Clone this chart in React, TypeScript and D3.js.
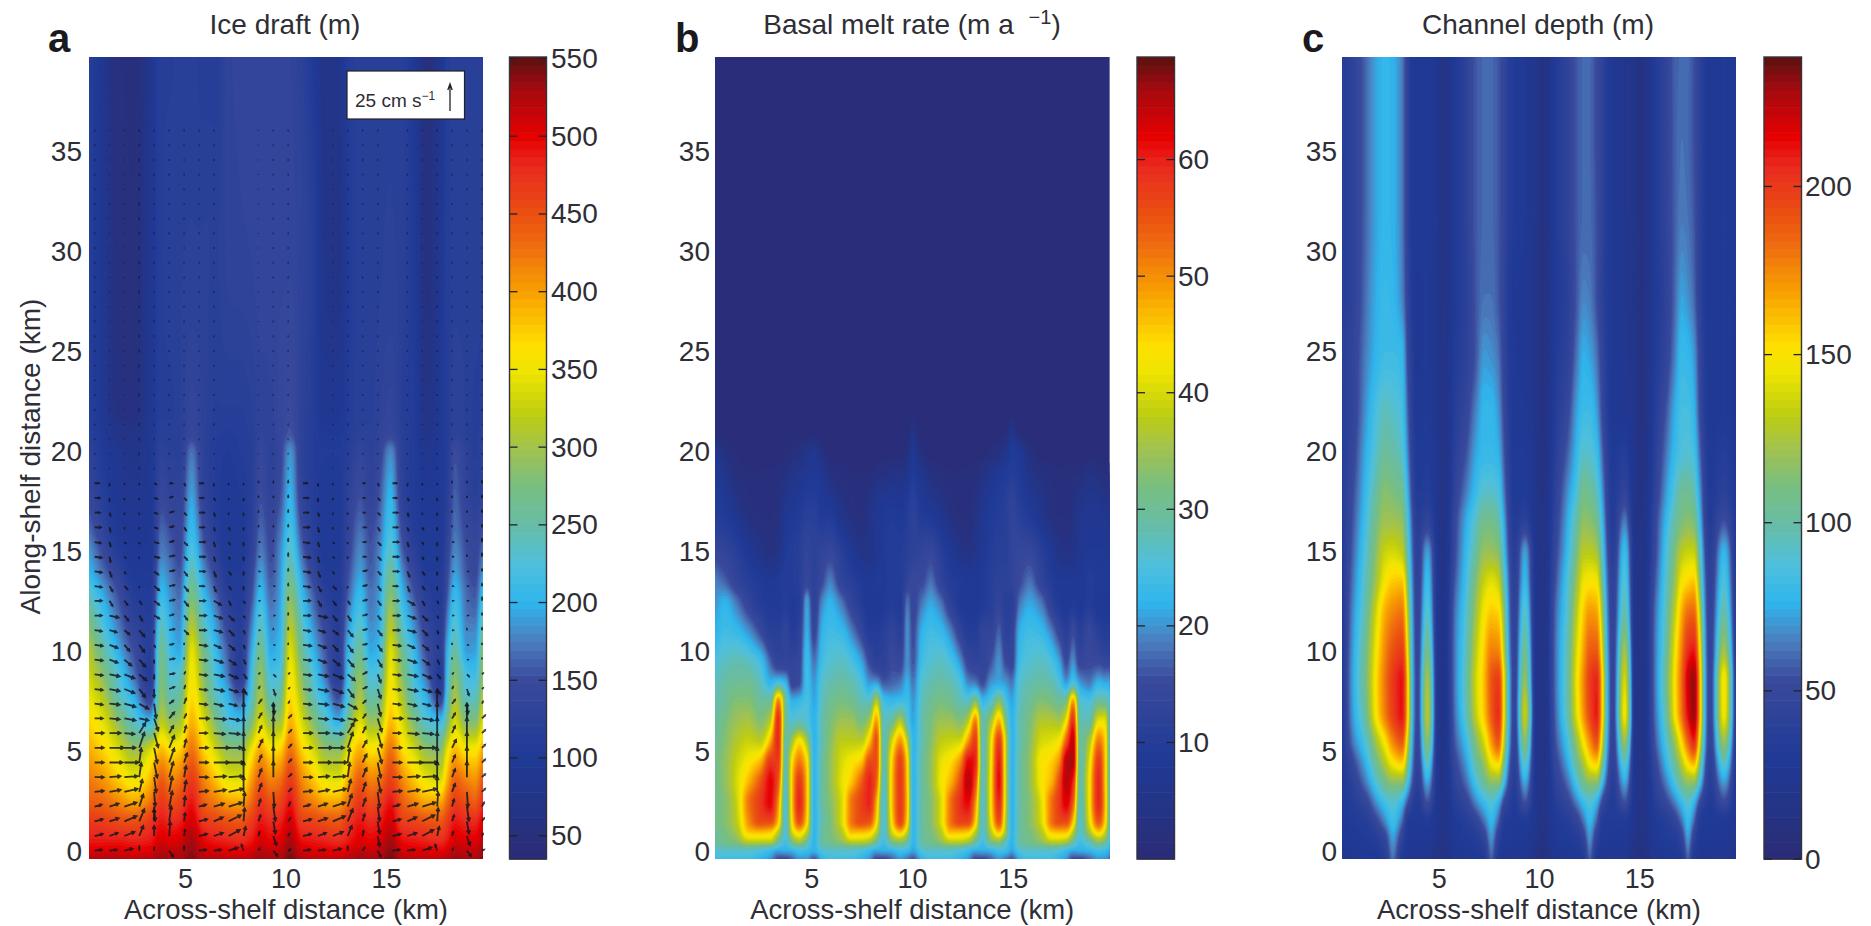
import React, { useMemo } from "react";
import * as d3 from "d3";

// ---------- shared ticks and labels ----------
const alongTicks = [0, 5, 10, 15, 20, 25, 30, 35];
const acrossTicks = [5, 10, 15];
const draftTicks = [50, 100, 150, 200, 250, 300, 350, 400, 450, 500, 550];
const meltTicks = [10, 20, 30, 40, 50, 60];
const depthTicks = [0, 50, 100, 150, 200];

const stopValues = [35, 50, 100, 150, 175, 200, 225, 250, 275, 300, 320, 350, 365, 400, 430, 450, 480, 500, 530, 551];
const stopColours = ["#2a2a78", "#28307c", "#1f3a96", "#3a4a9c", "#4b7dbd", "#2fb5ec", "#4fc0dc", "#67bda6", "#77be80", "#a3c24e", "#bccd12", "#f0e500", "#fee000", "#f8a000", "#ef6c10", "#ea5010", "#ea2a20", "#e60000", "#a50a10", "#5a1010"];

// ---------- panel a: ice draft (m) ----------
const draftX = [0.2, 0.85, 1.65, 2.45, 3.25, 3.8, 4.3, 4.7, 5.3, 5.9, 6.5, 7.1, 7.7, 8.25, 8.75, 9.25, 9.7, 10.2, 10.8, 11.4, 12, 12.6, 13.1, 13.7, 14.2, 14.6, 15.2, 15.8, 16.4, 17, 17.7, 18, 18.4, 19, 19.4, 19.8];
const draftY = [-0.4, 0.5, 1.5, 2.5, 3.5, 5, 6.5, 8, 9, 10, 11, 12, 13, 14, 15, 16, 18, 20, 21, 22, 30, 39.75];
const draftGrid = [
  [525,525,525,520,525,535,530,530,540, 525,525,520,520,525,535,530,530,545, 525,520,520,520,525,535,530,530,545, 525,520,520,520,525,535,530,530,540],
  [490,490,490,485,490,510,505,510,530, 500,490,485,480,490,510,500,505,530, 495,490,485,480,490,505,500,505,530, 495,490,485,480,490,510,505,505,525],
  [470,465,455,450,470,490,480,485,510, 470,460,450,445,465,490,480,485,510, 465,460,450,445,470,490,480,485,510, 465,460,450,445,465,490,480,480,505],
  [440,435,415,395,425,470,450,460,490, 440,420,400,395,430,470,450,460,490, 435,415,395,395,430,470,450,460,490, 440,415,395,395,430,465,450,440,480],
  [425,410,380,355,390,445,420,430,470, 420,385,350,345,400,445,420,430,470, 415,380,350,345,395,445,420,425,465, 415,380,350,340,390,440,420,410,450],
  [395,375,340,300,340,390,365,375,430, 375,335,295,290,350,400,365,375,430, 375,335,295,290,345,395,365,370,430, 370,335,295,285,345,390,360,360,400],
  [370,345,290,235,205,320,290,300,390, 340,280,230,215,270,340,295,300,390, 335,280,235,200,270,340,295,300,385, 335,275,230,210,265,335,280,280,345],
  [345,310,240,190,125,285,240,250,365, 300,235,195,150,220,305,235,250,365, 300,235,190,140,225,300,240,250,360, 300,230,190,120,215,300,230,230,310],
  [330,285,225,165,110,275,225,230,355, 285,220,170,110,205,290,215,225,355, 280,220,165,110,215,285,220,225,350, 280,215,165,105,205,280,215,210,295],
  [315,260,200,150,115,265,210,195,345, 270,210,160,115,190,270,195,210,340, 260,200,155,120,205,260,195,205,340, 265,205,150,120,195,255,190,190,290],
  [290,235,180,135,115,245,200,185,320, 245,195,145,115,175,245,185,200,320, 245,185,145,115,190,240,185,195,320, 240,185,140,115,180,235,180,180,265],
  [265,215,165,120,110,225,190,175,295, 225,180,130,110,160,225,175,195,300, 225,170,130,110,175,220,175,190,300, 220,170,125,110,165,220,170,165,240],
  [235,195,150,110,105,205,180,165,270, 205,160,115,105,145,205,165,190,280, 205,155,115,105,160,205,170,185,280, 200,150,115,105,150,205,165,155,215],
  [205,170,130,100,100,190,170,155,245, 185,140,105,105,135,190,155,185,255, 185,135,105,105,150,190,160,180,260, 180,135,105,105,140,190,155,145,190],
  [190,150,110,95,95,175,160,145,225, 165,125,100,100,125,175,150,180,235, 165,120,100,100,140,180,155,175,235, 160,120,100,100,130,180,150,140,170],
  [170,135,100,90,95,165,150,140,210, 150,115,100,100,120,165,145,170,220, 150,115,100,100,135,170,150,165,220, 145,110,100,100,125,170,145,135,155],
  [140,115,90,85,95,140,130,130,190, 130,110,100,105,115,150,130,150,200, 130,110,100,100,125,150,130,150,200, 125,105,95,100,115,160,130,120,130],
  [125,105,85,75,95,125,120,120,170, 125,110,105,110,115,140,125,140,185, 125,110,105,105,115,135,125,135,180, 120,105,85,100,110,150,125,115,125],
  [118,100,72,68,95,118,118,120,140, 125,112,110,112,118,132,128,140,155, 125,110,98,98,112,122,122,128,140, 118,105,75,100,110,125,120,115,118],
  [115,95,60,58,92,115,115,120,135, 125,115,115,115,120,130,130,140,150, 125,110,90,92,110,120,120,125,135, 115,105,70,100,110,125,120,115,115],
  [115,90,55,52,88,115,118,120,122, 122,120,128,130,132,136,136,136,136, 128,112,75,72,105,118,118,120,122, 118,100,58,92,112,118,118,118,115],
  [115,88,52,50,85,115,115,118,118, 112,112,130,134,136,136,136,136,132, 122,100,70,78,110,118,118,120,120, 115,95,55,88,112,118,118,118,115],
];

// ---------- panel a: velocity arrows (cm/s, rows from the grounding line upward) ----------
const quiverX = [0.48, 1.22, 1.96, 2.7, 3.44, 4.19, 4.93, 5.67, 6.41, 7.15, 7.89, 8.63, 9.37, 10.11, 10.85, 11.59, 12.33, 13.07, 13.81, 14.56, 15.3, 16.04, 16.78, 17.52, 18.26, 19, 19.75];
const quiverU = [
  [7,7,8,0,0,4,0, 7,7,9,-2,1,4,2, 7,7,8,0,2,3, 7,7,9,-2,1,4,2],
  [8,8,10,4,0,1,1, 8,9,11,2,1,3,1, 8,8,10,4,1,2, 8,9,11,2,1,3,1],
  [8,9,12,5,0,2,1, 8,9,12,1,2,2,2, 8,9,12,5,2,2, 8,9,12,1,2,2,2],
  [7,9,12,4,1,3,1, 7,10,13,1,2,2,2, 7,9,12,4,3,2, 7,10,13,1,2,2,2],
  [9,11,13,3,1,3,2, 9,12,14,0,3,1,3, 9,11,13,3,3,2, 9,12,14,0,3,1,3],
  [9,11,13,2,2,4,2, 9,12,14,0,3,0,3, 9,11,13,2,4,3, 9,12,14,0,3,0,3],
  [9,13,14,2,3,5,3, 9,15,15,0,3,0,3, 9,13,14,2,4,3, 9,15,15,0,3,0,3],
  [9,14,11,5,3,5,2, 9,15,13,0,4,0,3, 9,14,11,5,4,4, 9,15,13,0,4,0,3],
  [9,11,10,6,4,4,2, 8,11,11,0,3,0,3, 9,11,10,6,3,4, 8,11,11,0,3,0,3],
  [8,10,11,9,4,5,2, 10,12,11,0,3,0,3, 8,10,11,9,3,4, 10,12,11,0,3,0,3],
  [8,10,11,9,2,4,2, 8,9,8,0,3,1,1, 8,10,11,9,3,3, 8,9,8,0,3,1,1],
  [8,10,10,6,0,5,1, 8,10,9,3,1,2,1, 8,10,10,6,4,3, 8,10,9,3,1,2,1],
  [8,10,10,7,0,5,1, 8,10,9,3,1,2,1, 8,10,10,7,4,3, 8,10,9,3,1,2,1],
  [8,8,7,6,0,5,0, 8,9,7,2,0,1,0, 8,8,7,6,4,4, 8,9,7,2,0,1,0],
  [8,8,5,5,1,4,0, 8,7,6,1,0,1,0, 8,8,5,5,4,4, 8,7,6,1,0,1,0],
  [7,7,5,5,0,5,4, 7,8,5,1,1,0,0, 7,7,5,5,4,4, 7,8,5,1,1,0,0],
  [7,9,4,3,5,4,3, 7,8,5,1,1,1,0, 7,9,4,3,4,3, 7,8,5,1,1,1,0],
  [7,3,3,2,5,5,4, 6,7,2,1,1,1,0, 7,3,3,2,4,3, 6,7,2,1,1,1,0],
  [7,3,3,0,5,5,4, 5,2,2,0,1,1,0, 7,3,3,0,4,3, 5,2,2,0,1,1,0],
  [7,2,1,0,4,5,3, 6,2,2,0,1,1,0, 7,2,1,0,4,3, 6,2,2,0,1,1,0],
  [7,1,1,0,5,5,3, 6,1,1,0,1,0,0, 7,1,1,0,3,3, 6,1,1,0,1,0,0],
  [6,1,1,0,4,4,3, 6,1,1,0,1,0,0, 6,1,1,0,3,3, 6,1,1,0,1,0,0],
  [6,1,0,0,3,4,2, 5,1,1,0,0,0,0, 6,1,0,0,3,2, 5,1,1,0,0,0,0],
  [5,1,0,0,3,4,2, 5,1,0,0,0,0,0, 5,1,0,0,2,2, 5,1,0,0,0,0,0],
  [5,0,0,0,3,3,2, 4,1,0,0,0,0,0, 5,0,0,0,2,2, 4,1,0,0,0,0,0],
  [4,0,0,0,2,3,1, 4,0,0,0,0,0,0, 4,0,0,0,2,1, 4,0,0,0,0,0,0],
];
const quiverV = [
  [1,1,2,4,3,-6,4, 1,1,3,6,2,-5,1, 1,1,2,4,3,-6, 1,1,3,6,2,-5,1],
  [2,3,4,10,10,14,6, 2,3,6,9,4,-9,2, 2,3,4,10,5,-10, 2,3,6,9,4,-9,2],
  [2,3,5,12,12,15,8, 2,4,6,13,6,-12,3, 2,3,5,12,7,-12, 2,4,6,13,6,-12,3],
  [2,3,4,12,-14,15,10, 2,3,4,14,7,-14,4, 2,3,4,12,8,-14, 2,3,4,14,7,-14,4],
  [1,2,3,12,-14,15,11, 1,2,3,15,8,-15,3, 1,2,3,12,9,-15, 1,2,3,15,8,-15,3],
  [0,1,1,14,-15,15,11, 0,1,1,15,8,15,3, 0,1,1,14,9,-15, 0,1,1,15,8,15,3],
  [0,0,0,14,-15,14,9, 0,0,0,15,7,15,3, 0,0,0,14,8,-15, 0,0,0,15,7,15,3],
  [0,0,0,15,-15,12,8, 0,0,0,15,8,15,3, 0,0,0,15,7,-15, 0,0,0,15,8,15,3],
  [0,0,-1,10,-14,7,7, 0,-1,-1,15,7,15,3, 0,0,-1,10,6,-14, 0,-1,-1,15,7,15,3],
  [0,-1,-2,-2,-12,6,4, 0,-1,-2,15,5,15,3, 0,-1,-2,-2,4,-13, 0,-1,-2,15,5,15,3],
  [-1,-1,-3,-5,-14,3,5, -1,-2,-2,14,4,-10,2, -1,-1,-3,-5,3,-12, -1,-2,-2,14,4,-10,2],
  [-1,-2,-4,-8,-8,2,3, -1,-2,-3,-5,2,-6,1, -1,-2,-4,-8,2,-9, -1,-2,-3,-5,2,-6,1],
  [-1,-2,-4,-6,-4,1,2, -1,-2,-4,-4,1,-2,1, -1,-2,-4,-6,2,-8, -1,-2,-4,-4,1,-2,1],
  [-1,-3,-6,-7,-3,1,1, -1,-3,-5,-4,1,0,1, -1,-3,-6,-7,1,-7, -1,-3,-5,-4,1,0,1],
  [-1,-3,-6,-7,-2,1,1, -1,-3,-5,-3,1,0,1, -1,-3,-6,-7,1,-6, -1,-3,-5,-3,1,0,1],
  [-1,-2,-4,-6,-2,1,-4, 0,-2,-5,-3,0,1,2, -1,-2,-4,-6,1,-5, 0,-2,-5,-3,0,1,2],
  [0,-2,-5,-5,-3,1,-4, 0,-3,-5,-2,0,0,2, 0,-2,-5,-5,1,-4, 0,-3,-5,-2,0,0,2],
  [0,-5,-4,-3,-4,1,-5, 0,-4,-4,-2,0,0,3, 0,-5,-4,-3,1,-4, 0,-4,-4,-2,0,0,3],
  [-1,-5,-3,-1,-4,1,-5, 0,-5,-3,-3,0,0,2, -1,-5,-3,-1,1,-4, 0,-5,-3,-3,0,0,2],
  [-1,-5,-2,0,-3,1,-4, 0,-5,-3,-3,0,0,2, -1,-5,-2,0,1,-3, 0,-5,-3,-3,0,0,2],
  [-1,-5,-1,-1,-1,1,-3, 0,-4,-2,-3,0,1,3, -1,-5,-1,-1,0,-3, 0,-4,-2,-3,0,1,3],
  [-1,-4,-1,-1,-1,1,-3, 0,-4,-2,-3,0,1,3, -1,-4,-1,-1,0,-3, 0,-4,-2,-3,0,1,3],
  [0,-4,-1,-1,-1,1,-3, 0,-3,-2,-2,1,1,2, 0,-4,-1,-1,0,-3, 0,-3,-2,-2,1,1,2],
  [0,-3,-1,-1,-1,1,-2, 0,-3,-1,-2,1,1,2, 0,-3,-1,-1,0,-2, 0,-3,-1,-2,1,1,2],
  [0,-3,-1,-1,-1,1,-2, 0,-2,-1,-2,1,1,2, 0,-3,-1,-1,0,-2, 0,-2,-1,-2,1,1,2],
  [0,-2,-1,-1,-1,0,-2, 0,-2,-1,-1,1,1,2, 0,-2,-1,-1,0,-2, 0,-2,-1,-1,1,1,2],
];
const weakFlow = [2,1,1,3,2,2,2,2,2,0,0,1,2,2,0,0,1,2,2,2,0,2,1,2,2,2,2];

// ---------- panel b: basal melt rate (m/a) ----------
const meltX = [0.2,0.7,1.28,1.87,2.46,2.95,3.34,3.7,4.03,4.38,4.76,5.11, 5.5,5.9,6.48,6.97,7.47,7.86,8.21,8.56,8.98,9.39,9.74,10.02, 10.45,10.9,11.39,11.88,12.37,12.76,13.12,13.47,13.9,14.29,14.63,14.92, 15.31,15.8,16.39,16.88,17.28,17.63,17.96,18.3,18.75,19.24,19.53,19.77];
const meltY = [-0.35, 0.1, 0.5, 1, 1.5, 2.5, 3.5, 4.5, 5.5, 6.5, 7.5, 8.5, 9.5, 11, 12.5, 13.5, 15, 17, 19, 20, 21, 22, 39.75];
const meltGrid = [
  [24,24,24,24,22,20,15,15,17,20,20,16, 22,24,24,24,22,20,15,15,17,20,18,16, 22,24,24,24,22,20,15,15,17,20,18,16, 22,24,24,24,22,20,15,15,17,20,20,18],
  [26,27,27,27,26,24,22,22,23,25,24,22, 26,27,27,27,26,24,22,22,23,25,24,21, 26,27,27,27,26,24,22,22,23,25,24,21, 26,27,27,27,26,24,22,22,23,25,24,22],
  [29,31,33,38,38,38,30,24,32,36,30,22, 29,31,34,38,38,36,30,24,32,34,30,22, 29,31,34,38,38,36,30,24,32,34,27,22, 29,31,34,38,38,36,30,24,28,34,32,24],
  [30,32,36,46,47,46,38,25,40,46,38,22, 29,32,37,47,47,46,38,25,40,47,38,22, 29,32,37,47,47,46,38,26,38,47,35,22, 29,32,37,46,47,47,38,26,36,46,40,27],
  [31,33,38,50,56,56,46,25,44,56,44,22, 28,32,40,52,56,55,44,25,44,57,44,22, 29,33,40,52,57,57,45,26,42,56,36,22, 29,33,40,52,56,56,46,26,40,55,46,28],
  [31,33,39,52,58,62,50,25,46,60,46,22, 29,33,40,52,57,60,48,25,46,58,46,22, 29,33,40,52,59,62,50,26,44,60,38,22, 29,33,41,52,58,63,55,27,42,60,48,28],
  [31,34,40,47,55,62,55,26,46,58,46,22, 29,34,41,46,54,60,54,26,46,58,45,22, 29,34,42,47,56,65,56,27,44,62,38,22, 29,34,43,47,56,65,60,28,42,60,47,28],
  [31,34,39,43,47,58,58,27,44,52,44,22, 29,34,40,43,46,56,56,27,45,57,44,22, 29,34,41,44,50,62,60,27,43,61,38,22, 29,34,43,45,50,65,66,28,40,58,47,28],
  [30,33,37,39,38,48,60,28,36,44,36,22, 28,33,38,38,38,46,56,27,40,50,38,22, 28,33,38,39,40,50,58,27,42,58,38,22, 28,33,40,41,43,55,65,29,36,52,46,28],
  [29,32,35,36,33,38,60,30,26,28,26,22, 28,32,35,35,32,36,50,27,30,38,27,21, 28,32,35,35,33,38,52,28,36,48,32,22, 28,32,37,37,36,43,60,28,28,42,42,28],
  [28,30,33,33,30,30,52,30,22,23,25,21, 27,30,32,31,28,27,38,24,23,24,24,20, 27,30,32,31,28,27,34,23,26,34,25,21, 27,30,33,32,30,32,50,26,25,30,30,26],
  [27,29,30,30,27,22,24,22,14,15,24,20, 26,28,29,28,25,20,20,16,17,18,22,18, 26,28,29,28,25,19,18,15,20,21,20,18, 26,28,29,28,25,20,25,20,18,22,21,21],
  [25,27,28,27,24,17,13,13,13,14,24,18, 24,26,27,25,21,15,12,12,15,14,20,16, 24,26,27,25,20,14,13,13,16,20,15,14, 24,26,27,25,21,15,20,14,15,15,14,14],
  [22,24,23,20,15,11,11,13,10,12,22,14, 22,24,23,19,14,10,10,11,13,11,20,15, 22,24,23,19,13,10,10,13,13,17,12,13, 22,24,23,19,14,11,15,11,14,11,10,10],
  [20,22,18,13,10,9,9,10,9,10,21,12, 19,22,18,13,10,8,8,9,10,9,18,14, 18,21,18,12,9,8,8,9,11,13,11,11, 18,21,18,12,9,8,9,8,10,8,8,8],
  [19,17,13,11,9,8,9,10,10,11,14,12, 15,19,13,11,9,8,9,9,10,10,13,15, 15,18,13,10,9,8,8,9,11,12,12,13, 15,18,13,10,8,8,8,8,10,9,9,9],
  [14,13,11,8,5,3,5,9,10,11,13,12, 13,14,11,8,5,5,7,9,10,10,11,12, 13,14,11,8,5,4,6,8,10,11,11,13, 14,14,11,8,5,4,5,7,8,8,8,8],
  [10,9,6,3,2,2,3,7,8,9,11,11, 9,9,5,3,2,5,7,8,9,8,10,12, 9,8,6,3,2,2,4,7,9,10,11,13, 11,9,6,3,2,2,4,6,7,7,6,6],
  [9,6,2,1.5,1.5,1.5,2,3,5,6,7,8, 7,3,2,1.5,1.5,1.5,3,3,4,4,6,9, 6,3,2,1.5,1.5,1.5,2,4,6,8,9,10, 9,5,3,2,1.5,1.5,2,2,4,3,2,2],
  [8,3,1.5,1,1,1,1,1.5,2,3,5,7, 3,1,1,1,1,1,1,1,1,1,3,8, 2,1,1,1,1,1,1,1,2,3,6,9, 8,3,1,1,1,1,1,1,1,1,1,1],
  [1,1,1,1,1,1,1,1,1,1,1,1, 1,1,1,1,1,1,1,1,1,1,1,4.5, 1,1,1,1,1,1,1,1,1,1,1.5,6, 1.5,1,1,1,1,1,1,1,1,1,1,1],
  [1,1,1,1,1,1,1,1,1,1,1,1, 1,1,1,1,1,1,1,1,1,1,1,1, 1,1,1,1,1,1,1,1,1,1,1,1, 1,1,1,1,1,1,1,1,1,1,1,1],
  [1,1,1,1,1,1,1,1,1,1,1,1, 1,1,1,1,1,1,1,1,1,1,1,1, 1,1,1,1,1,1,1,1,1,1,1,1, 1,1,1,1,1,1,1,1,1,1,1,1],
];

// ---------- panel c: channel depth (m) ----------
const depthX = [0.15,0.67,1.34,1.82,2.29,2.68,3.15,3.44,3.67,3.92,4.4,4.97, 5.2,5.75,6.35,6.8,7.25,7.6,7.95,8.25,8.5,8.75,9.27,9.85, 10.15,10.8,11.4,11.85,12.2,12.5,12.85,13.15,13.4,13.65,14.25,14.8, 15.1,15.75,16.3,16.75,17.1,17.4,17.7,18,18.25,18.5,19.2,19.8];
const depthY = [-0.35, 0.7, 1.5, 2.5, 3.5, 4.5, 5.5, 7, 8.5, 10, 12, 13.5, 15, 16.5, 18, 20, 22, 25, 28, 32, 36, 39.75];
const depthGrid = [
  [22,26,28,28,35,62,30,24,22,25,24,12, 12,24,26,28,32,58,30,24,24,24,24,12, 10,24,26,28,32,58,30,24,24,24,24,12, 10,24,26,28,32,58,30,24,22,24,24,20],
  [28,30,32,36,48,72,44,30,28,28,28,20, 16,28,32,35,46,70,42,30,30,28,28,20, 14,28,32,35,46,70,42,30,30,28,28,18, 14,28,32,35,46,72,44,30,28,28,28,22],
  [28,32,36,48,66,82,60,32,30,30,32,22, 18,30,36,45,62,78,58,33,32,30,32,22, 16,30,36,45,62,78,58,33,32,32,32,20, 16,30,36,45,62,80,60,33,30,30,30,24],
  [30,36,48,68,85,92,80,55,40,32,55,22, 18,36,48,66,82,90,78,50,38,32,55,22, 16,36,48,66,82,90,78,50,38,33,55,20, 16,36,50,66,82,92,80,52,38,32,52,26],
  [30,42,65,88,108,118,118,85,55,38,75,22, 18,42,62,85,105,118,118,80,50,36,75,22, 16,42,62,88,108,118,118,80,52,37,75,20, 16,42,65,88,108,120,120,85,52,37,72,28],
  [30,50,78,105,130,150,160,110,65,42,95,22, 18,48,72,100,122,148,158,105,60,40,95,22, 16,48,75,105,128,150,160,108,62,42,95,20, 16,48,78,105,132,155,168,115,62,40,95,30],
  [30,62,90,122,150,175,190,130,72,45,115,22, 18,55,82,112,140,170,190,125,70,42,115,22, 16,55,85,120,150,172,192,130,70,44,120,20, 16,55,88,122,155,185,208,140,72,44,120,32],
  [30,70,105,148,178,198,212,150,78,48,130,22, 18,60,95,132,160,188,205,140,75,45,135,22, 16,60,98,142,172,195,210,148,76,46,148,20, 16,60,100,148,182,215,232,160,78,46,148,32],
  [30,72,110,150,180,200,212,150,78,48,125,22, 18,62,98,135,162,190,200,140,75,45,120,22, 16,62,100,145,175,198,208,148,76,46,140,20, 16,62,105,150,185,220,232,160,78,46,150,32],
  [30,70,108,145,175,192,200,140,75,46,110,22, 18,62,95,130,158,178,178,125,68,44,108,22, 16,62,98,140,168,188,190,135,72,45,125,20, 16,62,100,145,178,205,212,150,75,45,125,32],
  [30,66,100,135,165,175,180,125,70,44,92,22, 18,60,90,120,148,158,155,110,62,42,92,22, 16,60,92,130,158,170,168,118,65,44,100,20, 16,60,95,132,165,182,185,130,68,44,100,32],
  [32,62,95,122,148,158,160,110,65,42,82,22, 17,55,85,112,135,142,135,95,58,40,80,22, 16,55,88,120,145,150,148,102,60,42,90,20, 16,55,90,120,148,155,160,110,62,42,88,32],
  [32,58,90,115,135,138,132,95,60,40,72,22, 16,50,80,100,120,120,115,80,52,36,72,22, 15,50,80,110,130,130,125,88,54,38,82,20, 16,50,85,112,130,135,135,95,55,38,78,30],
  [34,55,85,108,122,122,118,85,55,36,45,22, 16,48,75,92,108,108,100,72,46,33,42,20, 15,46,75,100,118,116,108,78,48,34,65,18, 15,48,78,100,112,116,112,80,48,34,55,30],
  [36,52,80,100,115,112,105,75,48,32,35,22, 15,42,65,80,92,92,88,62,42,30,32,20, 14,42,68,88,108,105,95,68,44,32,45,18, 14,42,70,90,104,105,98,70,44,32,40,30],
  [36,48,75,90,103,100,92,65,42,30,32,22, 15,38,55,72,80,80,76,55,38,30,30,20, 13,38,58,78,92,90,82,58,40,30,35,18, 13,38,62,80,88,90,85,60,40,30,35,28],
  [36,45,70,85,95,92,85,58,38,28,30,20, 15,35,48,65,78,78,70,50,36,28,28,18, 12,35,50,72,82,82,72,50,36,27,26,18, 12,35,55,75,85,85,78,52,36,28,30,26],
  [38,45,65,76,82,82,78,50,35,27,28,20, 15,32,42,55,70,68,62,45,34,28,26,18, 12,32,42,62,75,72,62,45,33,27,24,18, 12,32,45,65,80,78,70,48,34,28,30,26],
  [35,42,62,74,80,78,66,45,32,27,28,20, 15,30,40,55,62,62,56,44,33,28,26,18, 12,30,40,56,66,64,54,40,32,27,23,18, 12,30,42,60,72,68,60,42,32,28,30,27],
  [35,42,60,72,78,76,64,42,30,28,30,22, 15,30,42,56,60,60,56,46,36,32,28,20, 12,32,44,56,60,60,54,42,32,28,22,18, 12,32,44,58,64,62,56,42,32,28,30,28],
  [35,42,60,72,78,76,64,42,30,28,30,22, 15,30,42,56,60,60,56,46,36,32,28,20, 12,32,44,56,60,60,52,42,32,28,22,18, 12,32,44,58,62,60,54,42,32,28,30,28],
  [35,42,60,72,78,76,64,42,30,28,30,22, 15,30,42,56,60,60,56,46,36,32,28,20, 12,32,44,56,60,60,52,42,32,28,22,18, 12,32,44,58,60,60,54,42,32,28,30,28],
];

// ---------- layout ----------
const WIDTH = 1871, HEIGHT = 926, TOP = 57, BOTTOM = 859, STEP = 2, LEVELS = 96, TEXT = 28;
const FONT = "'Liberation Sans', Arial, sans-serif";
const INK = "#2e2e36";

const fracScale = d3.scaleLinear<string>()
  .domain(stopValues.map((v) => (v - 35) / (551 - 35)))
  .range(stopColours)
  .interpolate(d3.interpolateRgb)
  .clamp(true);

// shape-preserving cubic resampling of one line of values
function resampleLine(xs: number[], vs: number[], out: number[]): number[] {
  const n = xs.length;
  const d: number[] = [];
  for (let i = 0; i < n - 1; i++) d.push((vs[i + 1] - vs[i]) / (xs[i + 1] - xs[i]));
  const t: number[] = [d[0]];
  for (let i = 1; i < n - 1; i++) t.push(d[i - 1] * d[i] <= 0 ? 0 : (2 * d[i - 1] * d[i]) / (d[i - 1] + d[i]));
  t.push(d[n - 2]);
  const res: number[] = [];
  let j = 0;
  for (const x0 of out) {
    const x = Math.max(xs[0], Math.min(xs[n - 1], x0));
    while (j < n - 2 && x > xs[j + 1]) j++;
    while (j > 0 && x < xs[j]) j--;
    const h = xs[j + 1] - xs[j], s = (x - xs[j]) / h;
    const s2 = s * s, s3 = s2 * s;
    res.push((2 * s3 - 3 * s2 + 1) * vs[j] + (s3 - 2 * s2 + s) * h * t[j] + (-2 * s3 + 3 * s2) * vs[j + 1] + (s3 - s2) * h * t[j + 1]);
  }
  return res;
}

function Heat({ id, left, right, xDomain, xs, ys, grid, lo, hi }: any) {
  const w = right - left, h = BOTTOM - TOP;
  const paths = useMemo(() => {
    const x = d3.scaleLinear().domain(xDomain).range([left, right]);
    const y = d3.scaleLinear().domain([-0.365, 39.74]).range([BOTTOM, TOP]);
    const nx = Math.ceil(w / STEP) + 2, ny = Math.ceil(h / STEP) + 2;
    const fineX = d3.range(nx).map((i) => x.invert(left + (i + 0.5) * STEP - STEP));
    const fineY = d3.range(ny).map((j) => y.invert(TOP + (j + 0.5) * STEP - STEP));
    const rows = (grid as number[][]).map((r) => resampleLine(xs, r, fineX));
    const values = new Float64Array(nx * ny);
    for (let i = 0; i < nx; i++) {
      const col = resampleLine(ys, rows.map((r) => r[i]), fineY);
      for (let j = 0; j < ny; j++) values[j * nx + i] = col[j];
    }
    const levels = d3.range(1, LEVELS).map((k) => lo + ((hi - lo) * k) / LEVELS);
    const contours = d3.contours().size([nx, ny]).thresholds(levels)(values as any);
    const gen = d3.geoPath();
    return contours
      .filter((c) => c.coordinates.length > 0)
      .map((c) => ({ d: gen(c as any) as string, fill: fracScale((c.value + (hi - lo) / LEVELS / 2 - lo) / (hi - lo)) }));
  }, []);
  return (
    <g>
      <clipPath id={id}><rect x={left} y={TOP} width={w} height={h} /></clipPath>
      <g clipPath={`url(#${id})`}>
        <rect x={left} y={TOP} width={w} height={h} fill={fracScale(0.004)} />
        <g transform={`translate(${left - STEP},${TOP - STEP}) scale(${STEP})`}>
          {paths.map((p, i) => <path key={i} d={p.d} fill={p.fill} />)}
        </g>
      </g>
    </g>
  );
}

function Axes({ left, right, xDomain, labelRight, ylabel, letter, letterX, title, titleX }: any) {
  const x = d3.scaleLinear().domain(xDomain).range([left, right]);
  const y = d3.scaleLinear().domain([-0.365, 39.74]).range([BOTTOM, TOP]);
  return (
    <g fontFamily={FONT} fill={INK}>
      {alongTicks.map((t) => (
        <text key={t} x={labelRight} y={y(t)} textAnchor="end" dominantBaseline="central" fontSize={TEXT}>{t}</text>
      ))}
      {acrossTicks.map((t) => (
        <text key={t} x={x(t)} y={878.5} textAnchor="middle" dominantBaseline="central" fontSize={27}>{t}</text>
      ))}
      <text x={(left + right) / 2} y={909.5} textAnchor="middle" dominantBaseline="central" fontSize={27.5}>Across-shelf distance (km)</text>
      {ylabel && (
        <text transform={`translate(30,456.5) rotate(-90)`} textAnchor="middle" dominantBaseline="central" fontSize={TEXT}>{ylabel}</text>
      )}
      <text x={letterX} y={52} fontSize={40} fontWeight="bold" fill="#1a1a1e">{letter}</text>
      <text x={titleX} y={33.5} textAnchor="middle" fontSize={TEXT}>{title}</text>
    </g>
  );
}

function ColorBar({ left, right, lo, hi, ticks, labelX }: any) {
  const y = d3.scaleLinear().domain([lo, hi]).range([BOTTOM, TOP]);
  const levels = d3.range(LEVELS);
  const dv = (hi - lo) / LEVELS;
  return (
    <g>
      {levels.map((k) => (
        <rect key={k} x={left} width={right - left} y={y(lo + (k + 1) * dv)} height={y(lo) - y(lo + dv) + 0.6} fill={fracScale((k + 0.5) / LEVELS)} />
      ))}
      <rect x={left} y={TOP} width={right - left} height={BOTTOM - TOP} fill="none" stroke="#33333a" strokeWidth={1.4} />
      {ticks.map((t: number) => (
        <g key={t} stroke="#22222a" strokeWidth={1.3}>
          <line x1={left} x2={left + 8} y1={y(t)} y2={y(t)} />
          <line x1={right - 8} x2={right} y1={y(t)} y2={y(t)} />
        </g>
      ))}
      <g fontFamily={FONT} fill={INK} fontSize={TEXT}>
        {ticks.map((t: number) => (
          <text key={t} x={labelX} y={y(t)} dominantBaseline="central">{t}</text>
        ))}
      </g>
    </g>
  );
}

function Quiver({ left, right, xDomain }: any) {
  const x = d3.scaleLinear().domain(xDomain).range([left, right]);
  const y = d3.scaleLinear().domain([-0.365, 39.74]).range([BOTTOM, TOP]);
  const rowY = (k: number) => 0.05 + 0.735 * k;
  const arrows = quiverU.flatMap((row, k) =>
    row.map((u, i) => {
      const v = quiverV[k][i];
      const x0 = x(quiverX[i]), y0 = y(rowY(k));
      const x1 = x0 + u, y1 = y0 - v;
      const a = Math.atan2(y1 - y0, x1 - x0);
      const p = d3.path();
      p.moveTo(x0, y0);
      p.lineTo(x1, y1);
      const hs = Math.min(3.5, Math.hypot(u, v) * 0.35);
      p.moveTo(x1 - hs * Math.cos(a - 0.5), y1 - hs * Math.sin(a - 0.5));
      p.lineTo(x1, y1);
      p.lineTo(x1 - hs * Math.cos(a + 0.5), y1 - hs * Math.sin(a + 0.5));
      return p.toString();
    })
  );
  const dots = d3.range(26, 50).flatMap((k) =>
    weakFlow.map((len, i) => ({ x: x(quiverX[i]), y: y(rowY(k)), len })).filter((d) => d.len > 0)
  );
  return (
    <g>
      <defs>
        <filter id="soft" x="-5%" y="-5%" width="110%" height="110%"><feGaussianBlur stdDeviation={0.45} /></filter>
      </defs>
      <g fill="none" stroke="#14141c" strokeWidth={1.8} strokeOpacity={0.85} filter="url(#soft)">
        {arrows.map((d, i) => <path key={i} d={d} />)}
      </g>
      <g stroke="#14141c" strokeWidth={1.4} strokeOpacity={0.55} filter="url(#soft)">
        {dots.map((d, i) => <line key={i} x1={d.x} x2={d.x} y1={d.y - d.len / 2} y2={d.y + d.len / 2} />)}
      </g>
    </g>
  );
}

const panelA = { left: 89, right: 483, xDomain: [0.2, 19.8] };
const panelB = { left: 715, right: 1109.5, xDomain: [0.2, 19.77] };
const panelC = { left: 1342, right: 1736, xDomain: [0.15, 19.8] };

export default function App() {
  return (
    <svg width={WIDTH} height={HEIGHT} style={{ position: "absolute", left: 0, top: 0, display: "block", background: "#fff" }}>
      <Heat id="ca" {...panelA} xs={draftX} ys={draftY} grid={draftGrid} lo={35} hi={551} />
      <Heat id="cb" {...panelB} xs={meltX} ys={meltY} grid={meltGrid} lo={0} hi={68.8} />
      <Heat id="cc" {...panelC} xs={depthX} ys={depthY} grid={depthGrid} lo={0} hi={238.5} />
      <Quiver {...panelA} />

      <g fontFamily={FONT}>
        <rect x={347} y={71} width={117.5} height={48} fill="#fff" stroke="#222" strokeWidth={1.2} />
        <text x={355} y={107} fontSize={19} fill={INK}>25 cm s<tspan dy={-7} fontSize={12}>−1</tspan></text>
        <path d="M450 111 L450 84 M447.8 90 L450 84 L452.2 90" fill="none" stroke="#222" strokeWidth={1.3} />
      </g>

      <Axes {...panelA} labelRight={82} ylabel="Along-shelf distance (km)" letter="a" letterX={48} title="Ice draft (m)" titleX={285} />
      <Axes {...panelB} labelRight={710} letter="b" letterX={675} titleX={912}
        title={<>Basal melt rate (m a <tspan dx={7} dy={-10} fontSize={20}>−1</tspan><tspan dy={10}>)</tspan></>} />
      <Axes {...panelC} labelRight={1337} letter="c" letterX={1302} title="Channel depth (m)" titleX={1538} />

      <ColorBar left={509.5} right={546.5} lo={35} hi={551} ticks={draftTicks} labelX={551} />
      <ColorBar left={1137} right={1174.5} lo={0} hi={68.8} ticks={meltTicks} labelX={1178} />
      <ColorBar left={1764} right={1801.5} lo={0} hi={238.5} ticks={depthTicks} labelX={1805} />
    </svg>
  );
}
